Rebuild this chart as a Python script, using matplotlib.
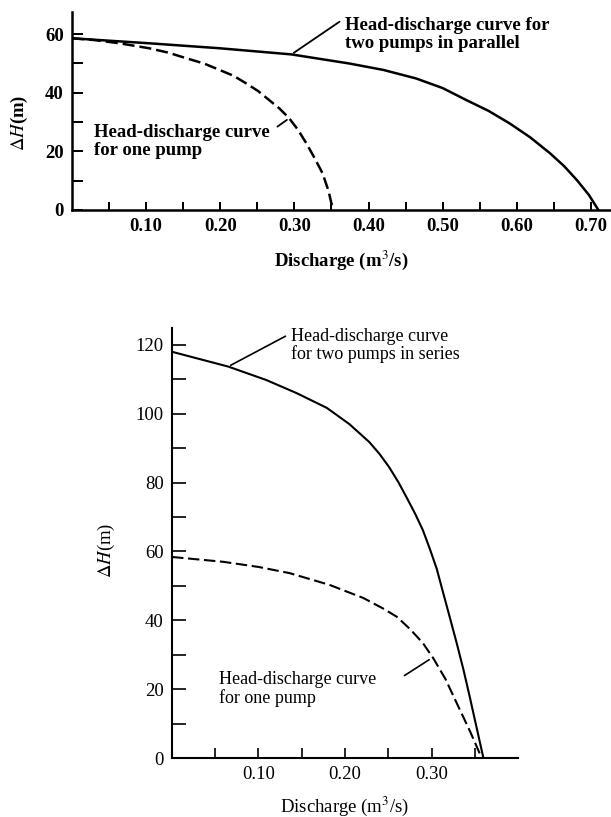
import matplotlib
matplotlib.use("Agg")
import matplotlib.pyplot as plt

plt.rcParams["font.family"] = ["Liberation Serif", "DejaVu Serif"]
plt.rcParams["mathtext.fontset"] = "stix"

# pump curves, two pumps in parallel (upper panel)
q_one_top = [0.0, 0.03, 0.064, 0.104, 0.13, 0.154, 0.178, 0.199, 0.218, 0.235, 0.251,
             0.266, 0.28, 0.293, 0.305, 0.316, 0.327, 0.338, 0.346, 0.352]
h_one_top = [58.6, 58.0, 56.9, 55.2, 53.7, 51.8, 50.0, 47.8, 45.8, 43.2, 40.6,
             37.5, 34.6, 31.3, 27.3, 22.8, 17.8, 12.5, 6.5, 0.0]
q_par = [0.0, 0.104, 0.199, 0.296, 0.374, 0.42, 0.464, 0.5, 0.532, 0.562, 0.59,
         0.618, 0.645, 0.664, 0.681, 0.697, 0.71]
h_par = [58.6, 56.9, 55.2, 53.1, 50.0, 47.8, 44.9, 41.6, 37.5, 33.8, 29.6,
         24.8, 19.3, 14.9, 10.2, 5.2, 0.0]

# pump curves, two pumps in series (lower panel)
q_one_bot = [0.0, 0.059, 0.1, 0.136, 0.182, 0.221, 0.245, 0.26, 0.275, 0.29, 0.302,
             0.316, 0.33, 0.345, 0.358]
h_one_bot = [58.4, 57.0, 55.5, 53.7, 50.3, 46.5, 43.3, 41.0, 37.5, 33.4, 29.0,
             23.0, 15.5, 7.5, 0.0]
q_ser = [0.0, 0.065, 0.109, 0.144, 0.179, 0.205, 0.228, 0.24, 0.251, 0.262, 0.271,
         0.281, 0.29, 0.298, 0.306, 0.314, 0.321, 0.329, 0.337, 0.344, 0.352, 0.36]
h_ser = [118.0, 113.7, 109.8, 106.0, 101.7, 97.0, 91.8, 88.3, 84.5, 80.0, 75.8,
         71.0, 66.2, 60.8, 55.0, 47.5, 41.0, 33.5, 25.6, 18.0, 9.0, 0.0]

top_xticks = [0.1, 0.2, 0.3, 0.4, 0.5, 0.6, 0.7]
top_yticks = [0, 20, 40, 60]
bot_xticks = [0.1, 0.2, 0.3]
bot_yticks = [0, 20, 40, 60, 80, 100, 120]

fig = plt.figure(figsize=(6.11, 8.17), dpi=100)
ax1 = fig.add_axes([0.1178, 0.7430, 0.8822, 0.2424])
ax2 = fig.add_axes([0.2815, 0.0722, 0.5663, 0.5263])


def style_axes(ax, xlim, ylim, xt, yt, xminor, yminor, lw, bold, tlen):
    w = "bold" if bold else "normal"
    for s in ("top", "right"):
        ax.spines[s].set_visible(False)
    for s in ("left", "bottom"):
        ax.spines[s].set_linewidth(lw)
    ax.set_xlim(*xlim)
    ax.set_ylim(*ylim)
    ax.set_xticks(xt)
    ax.set_xticklabels([f"{v:.2f}" for v in xt], fontsize=13.5, fontweight=w)
    ax.set_yticks(yt)
    ax.set_yticklabels([str(v) for v in yt], fontsize=13.5, fontweight=w)
    ax.set_xticks(xminor, minor=True)
    ax.set_yticks(yminor, minor=True)
    ax.tick_params(which="both", direction="in", width=lw * 0.8)
    ax.tick_params(axis="y", which="both", length=tlen, pad=6)
    ax.tick_params(axis="x", which="both", length=tlen * 0.7, pad=6)
    ax.set_xlabel("Discharge (m$^3$/s)", fontsize=13.5, fontweight=w)
    ax.set_ylabel(r"$\Delta H$(m)", fontsize=13.5, fontweight=w)


# upper panel
ax1.plot(q_par, h_par, color="black", lw=1.8, solid_joinstyle="round")
ax1.plot(q_one_top, h_one_top, color="black", lw=1.8, dashes=(4.8, 2.0))
style_axes(ax1, (0, 0.727), (0, 67.6), top_xticks, top_yticks,
           [0.05, 0.15, 0.25, 0.35, 0.45, 0.55, 0.65], [10, 30, 50], 1.8, True, 8)
ax1.yaxis.set_label_coords(-0.078, 0.44)
ax1.xaxis.set_label_coords(0.5, -0.195)

ax1.annotate("", xy=(0.296, 53.1), xytext=(0.364, 64.8),
             arrowprops=dict(arrowstyle="-", lw=1.3, color="black"))
ax1.text(0.368, 60.0, "Head-discharge curve for\ntwo pumps in parallel",
         fontsize=13.5, fontweight="bold", va="center", ha="left", linespacing=1.05)
ax1.annotate("", xy=(0.293, 31.3), xytext=(0.274, 27.9),
             arrowprops=dict(arrowstyle="-", lw=1.3, color="black"))
ax1.text(0.03, 23.3, "Head-discharge curve\nfor one pump",
         fontsize=13.5, fontweight="bold", va="center", ha="left", linespacing=1.05)

# lower panel
ax2.plot(q_ser, h_ser, color="black", lw=1.5, solid_joinstyle="round")
ax2.plot(q_one_bot, h_one_bot, color="black", lw=1.5, dashes=(5.5, 2.2))
style_axes(ax2, (0, 0.4), (0, 124.9), bot_xticks, bot_yticks,
           [0.05, 0.15, 0.25, 0.35], [10, 30, 50, 70, 90, 110], 1.5, False, 10)
ax2.yaxis.set_label_coords(-0.159, 0.484)
ax2.xaxis.set_label_coords(0.5, -0.084)

ax2.annotate("", xy=(0.065, 113.7), xytext=(0.134, 122.9),
             arrowprops=dict(arrowstyle="-", lw=1.2, color="black"))
ax2.text(0.138, 119.8, "Head-discharge curve\nfor two pumps in series",
         fontsize=13, va="center", ha="left", linespacing=1.05)
ax2.annotate("", xy=(0.30, 29.0), xytext=(0.266, 23.5),
             arrowprops=dict(arrowstyle="-", lw=1.2, color="black"))
ax2.text(0.054, 20.0, "Head-discharge curve\nfor one pump",
         fontsize=13, va="center", ha="left", linespacing=1.05)

fig.savefig("out.png", dpi=100, facecolor="white")
